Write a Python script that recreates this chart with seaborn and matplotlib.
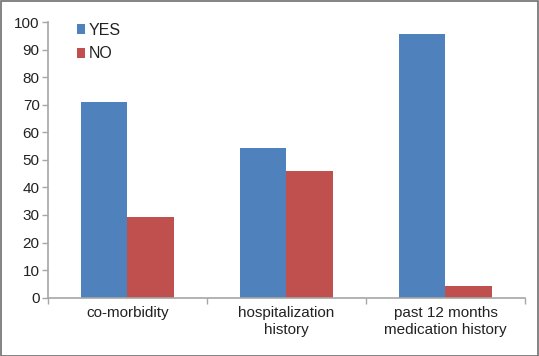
import matplotlib
matplotlib.use("Agg")
import matplotlib.pyplot as plt
import seaborn as sns
import pandas as pd
from matplotlib.patches import Rectangle, Patch

categories = ["co-morbidity", "hospitalization\nhistory", "past 12 months\nmedication history"]
yes_values = [70.9, 54.2, 95.8]
no_values = [29.1, 45.8, 4.2]
series = ["YES", "NO"]
colors = {"YES": "#4F81BD", "NO": "#C0504D"}

df = pd.DataFrame({
    "category": categories * 2,
    "value": yes_values + no_values,
    "group": ["YES"] * 3 + ["NO"] * 3,
})

sns.set_style("white")
plt.rcParams["font.family"] = ["Liberation Sans", "DejaVu Sans"]

fig = plt.figure(figsize=(5.39, 3.56), dpi=100)
ax = fig.add_axes([0.089, 0.164, 0.885, 0.774])

sns.barplot(data=df, x="category", y="value", hue="group", hue_order=series,
            palette=colors, width=0.58, gap=0, saturation=1, ax=ax,
            edgecolor="none", linewidth=0)

ax.set_xlim(-0.5, 2.5)
ax.set_ylim(0, 100)
ax.set_yticks(range(0, 101, 10))
ax.set_xlabel("")
ax.set_ylabel("")

for s in ["top", "right"]:
    ax.spines[s].set_visible(False)
for s in ["left", "bottom"]:
    ax.spines[s].set_color("#a6a6a6")
    ax.spines[s].set_linewidth(1.2)

ax.tick_params(axis="y", which="major", length=4, width=1, color="#a6a6a6",
               labelsize=11, labelcolor="#222222", pad=2, left=True)
ax.tick_params(axis="x", which="major", length=0, labelsize=11,
               labelcolor="#222222", pad=6)
for lbl in ax.get_xticklabels():
    lbl.set_linespacing(1.3)
ax.set_xticks([-0.5, 0.5, 1.5, 2.5], minor=True)
ax.tick_params(axis="x", which="minor", length=4, width=1, color="#a6a6a6",
               bottom=True)

handles = [Patch(facecolor=colors[s], edgecolor="none") for s in series]
ax.legend(handles, series, loc="upper left", bbox_to_anchor=(0.03, 1.05),
          frameon=False, fontsize=11.5, handlelength=0.55, handleheight=0.55,
          handletextpad=0.2, labelspacing=0.55, labelcolor="#222222")

fig.patches.append(Rectangle((0.001, 0.001), 0.997, 0.996, transform=fig.transFigure,
                             fill=False, edgecolor="#6e6e6e", linewidth=1.2))

fig.savefig("out.png", dpi=100)
